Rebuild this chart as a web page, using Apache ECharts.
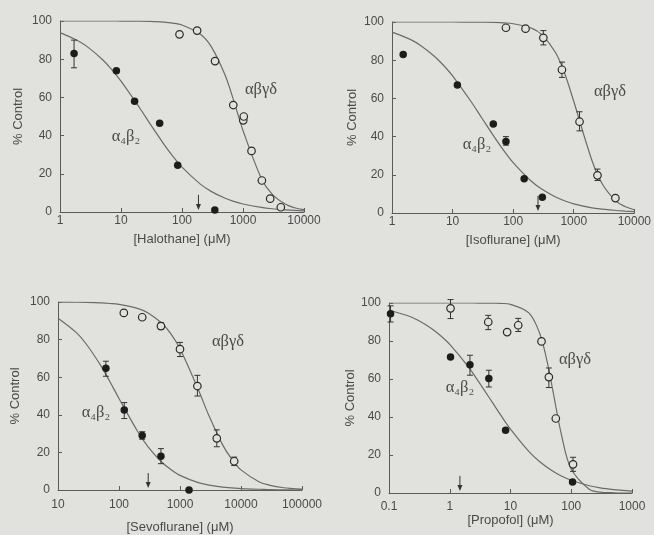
<!DOCTYPE html>
<html>
<head>
<meta charset="utf-8">
<script src="https://cdn.jsdelivr.net/npm/echarts@6/dist/echarts.min.js"></script>
<style>
html, body { margin: 0; background: #e1e1de; }
#main { width: 654px; height: 535px; }
</style>
</head>
<body>
<div id="main"></div>
<script>
// 四个剂量-反应面板：α4β2（实心点）和 αβγδ（空心点）
var chart = echarts.init(document.getElementById('main'));

// ---- Halothane ----
var haloFitX = [1, 2, 3, 5, 7, 10, 20, 30, 50, 70, 100, 200, 300, 500, 700, 1000, 2000, 3000, 5000, 7000, 10000];
var haloFitA = [93.9, 89.5, 85.8, 79.7, 74.7, 68.5, 54.7, 46.1, 35.7, 29.4, 23.5, 14.6, 10.8, 7.3, 5.6, 4.2, 2.4, 1.7, 1.1, 0.8, 0.6];
var haloFitB = [100, 100, 100, 100, 100, 99.97, 99.9, 99.76, 99.4, 98.9, 97.9, 93.1, 86.7, 72.2, 58.6, 42.7, 17.6, 9.4, 4.0, 2.2, 1.2];
var haloPtsA = [[1.7, 83], [8.4, 74], [16.7, 58], [43, 46.5], [85, 24.5], [345, 1]];
var haloPtsB = [[91, 93], [177, 95], [348, 79], [693, 56], [1010, 48], [1030, 50], [1380, 32], [2040, 16.5], [2790, 7], [4170, 2.5]];
var haloErr = [[1.7, 75.5, 90]];
var haloArrow = 186;

// ---- Isoflurane ----
var isoFitX = [1, 2, 3, 5, 7, 10, 20, 30, 50, 70, 100, 200, 300, 500, 700, 1000, 2000, 3000, 5000, 7000, 10000];
var isoFitA = [94.7, 90.9, 87.6, 82.1, 77.5, 71.8, 58.5, 50, 39.3, 32.7, 26.4, 16.6, 12.4, 8.4, 6.4, 4.8, 2.7, 2.0, 1.3, 1.0, 0.7];
var isoFitB = [100, 100, 100, 100, 100, 99.99, 99.96, 99.9, 99.76, 99.55, 99.1, 96.8, 93.3, 84.0, 73.6, 58.5, 27.5, 14.9, 6.2, 3.4, 1.7];
var isoPtsA = [[1.53, 83], [12, 67], [47, 46.6], [76, 37.4], [152, 17.9], [303, 8.2]];
var isoPtsB = [[76, 97], [160, 96.5], [315, 91.7], [639, 75], [1247, 47.8], [2465, 19.7], [4870, 7.8]];
var isoErr = [[76, 35.5, 40], [315, 88, 95.5], [639, 71, 79], [1247, 43, 53], [2465, 17, 23]];
var isoArrow = 257;

// ---- Sevoflurane ----
var sevoFitX = [10, 20, 30, 50, 70, 100, 200, 300, 500, 700, 1000, 2000, 3000, 5000, 7000, 10000, 20000, 30000, 50000, 70000, 100000];
var sevoFitA = [91.4, 83.7, 77.0, 66.3, 58.0, 48.7, 31.4, 23.0, 14.9, 11.0, 7.8, 3.9, 2.6, 1.5, 1.1, 0.7, 0.4, 0.2, 0.1, 0.1, 0.1];
var sevoFitB = [99.95, 99.86, 99.76, 99.5, 99.2, 98.7, 96.6, 94.2, 88.8, 83.3, 75.1, 53.3, 39.3, 24.0, 16.5, 10.7, 4.3, 2.5, 1.2, 0.8, 0.5];
var sevoPtsA = [[61, 64.7], [122, 42.5], [240, 29], [487, 17.9], [1406, 0]];
var sevoPtsB = [[120, 94.2], [240, 91.9], [487, 87.2], [1000, 74.9], [1928, 55.3], [4010, 27.5], [7730, 15.3]];
var sevoErr = [[61, 60.5, 68.5], [122, 38, 46.5], [240, 27, 31], [487, 14, 22],
  [487, 85.5, 89], [1000, 71, 78.5], [1928, 50, 61], [4010, 23, 32], [7730, 13, 17.5]];
var sevoArrow = 301;

// ---- Propofol ----
var propoFitXA = [0.1, 0.2, 0.3, 0.5, 0.7, 1, 2, 3, 5, 7, 10, 20, 30, 50, 70, 100, 200, 300, 500, 700, 1000];
var propoFitA = [96.2, 93.4, 90.9, 86.6, 82.9, 78.2, 66.6, 58.5, 47.8, 40.7, 33.6, 21.9, 16.6, 11.4, 8.8, 6.7, 3.8, 2.7, 1.8, 1.4, 1.0];
var propoFitXB = [0.1, 0.2, 0.3, 0.5, 0.7, 1, 2, 3, 5, 7, 10, 20, 30, 40, 50, 70, 100, 200, 300, 500, 700, 1000];
var propoFitB = [100, 100, 100, 100, 100, 100, 100, 99.98, 99.9, 99.8, 99.3, 94.8, 84.3, 69.3, 53.6, 29.7, 12.6, 1.8, 0.5, 0.1, 0, 0];
var propoPtsA = [[0.106, 94.4], [1.03, 71.6], [2.15, 67.5], [4.4, 60.2], [8.3, 33], [105, 5.8]];
var propoPtsB = [[1.03, 97.2], [4.3, 90], [8.8, 84.7], [13.4, 88.3], [32.4, 79.8], [42.8, 61], [55.7, 39.2], [107, 15.1]];
var propoErr = [[0.106, 90, 98.5], [2.15, 62, 72.5], [4.4, 55.8, 64.6],
  [1.03, 91.8, 101.8], [4.3, 86, 93.5], [13.4, 85, 91.9], [42.8, 55.5, 65.8], [107, 11.4, 18.8]];
var propoArrow = 1.47;

var yTicks = [0, 20, 40, 60, 80, 100];

var bg = '#e1e1de';
var ink = '#4a4a4a';
var curveColor = '#6b6b6b';
var dotColor = '#1c1c1c';

function pairs(xs, ys) {
  return xs.map(function (x, i) { return [x, ys[i]]; });
}

var panels = [
  { title: '[Halothane] (\u03bcM)', min: 1, max: 10000, fitA: pairs(haloFitX, haloFitA), fitB: pairs(haloFitX, haloFitB),
    ptsA: haloPtsA, ptsB: haloPtsB, err: haloErr, arrow: haloArrow,
    grid: { left: 60, top: 21, width: 244, height: 191 }, labelMargin: 3, xNameGap: 21, yNameGap: 35,
    tagB: [261, 90], tagA: [126, 137] },
  { title: '[Isoflurane] (\u03bcM)', min: 1, max: 10000, fitA: pairs(isoFitX, isoFitA), fitB: pairs(isoFitX, isoFitB),
    ptsA: isoPtsA, ptsB: isoPtsB, err: isoErr, arrow: isoArrow,
    grid: { left: 392, top: 22, width: 245, height: 191 }, labelMargin: 3, xNameGap: 21, yNameGap: 33,
    tagB: [610, 92], tagA: [477, 145] },
  { title: '[Sevoflurane] (\u03bcM)', min: 10, max: 100000, fitA: pairs(sevoFitX, sevoFitA), fitB: pairs(sevoFitX, sevoFitB),
    ptsA: sevoPtsA, ptsB: sevoPtsB, err: sevoErr, arrow: sevoArrow,
    grid: { left: 58, top: 302, width: 244, height: 190 }, labelMargin: 9, xNameGap: 31, yNameGap: 36,
    tagB: [228, 342], tagA: [96, 413] },
  { title: '[Propofol] (\u03bcM)', min: 0.1, max: 1000, fitA: pairs(propoFitXA, propoFitA), fitB: pairs(propoFitXB, propoFitB),
    ptsA: propoPtsA, ptsB: propoPtsB, err: propoErr, arrow: propoArrow,
    grid: { left: 389, top: 303, width: 243, height: 190 }, labelMargin: 8, xNameGap: 18, yNameGap: 31,
    tagB: [575, 360], tagA: [460, 388] }
];

// 误差棒
function renderErr(params, api) {
  var x = api.value(0);
  var lo = api.coord([x, api.value(1)]);
  var hi = api.coord([x, api.value(2)]);
  var w = 3;
  var st = { stroke: '#333', lineWidth: 1 };
  return {
    type: 'group',
    children: [
      { type: 'line', shape: { x1: lo[0], y1: lo[1], x2: hi[0], y2: hi[1] }, style: st },
      { type: 'line', shape: { x1: lo[0] - w, y1: lo[1], x2: lo[0] + w, y2: lo[1] }, style: st },
      { type: 'line', shape: { x1: hi[0] - w, y1: hi[1], x2: hi[0] + w, y2: hi[1] }, style: st }
    ]
  };
}

// 向下的小箭头
function renderArrow(params, api) {
  var top = api.coord([api.value(0), 9]);
  var bot = api.coord([api.value(0), 1]);
  return {
    type: 'group',
    children: [
      { type: 'line', shape: { x1: top[0], y1: top[1], x2: bot[0], y2: bot[1] - 3 }, style: { stroke: '#333', lineWidth: 1 } },
      { type: 'polygon', shape: { points: [[bot[0] - 2.5, bot[1] - 6], [bot[0] + 2.5, bot[1] - 6], [bot[0], bot[1]]] }, style: { fill: '#333' } }
    ]
  };
}

var grids = [], xAxes = [], yAxes = [], series = [], graphics = [];
var labelFont = { color: ink, fontFamily: 'Liberation Sans, Arial, sans-serif', fontSize: 12 };
var tagFont = '16.5px "Liberation Serif", "DejaVu Serif", serif';

panels.forEach(function (p, i) {
  grids.push(p.grid);
  xAxes.push({
    type: 'log', logBase: 10, gridIndex: i, min: p.min, max: p.max,
    name: p.title, nameLocation: 'middle', nameGap: p.xNameGap,
    nameTextStyle: { color: ink, fontFamily: 'Liberation Sans, Arial, sans-serif', fontSize: 13 },
    axisLine: { lineStyle: { color: '#5a5a5a', width: 1 } },
    axisTick: { inside: true, length: 4, lineStyle: { color: '#5a5a5a' } },
    minorTick: { show: false },
    splitLine: { show: false },
    axisLabel: Object.assign({ margin: p.labelMargin, formatter: function (v) { return String(+v.toPrecision(6)); } }, labelFont)
  });
  yAxes.push({
    type: 'value', gridIndex: i, min: yTicks[0], max: yTicks[yTicks.length - 1], interval: yTicks[1] - yTicks[0],
    name: '% Control', nameLocation: 'middle', nameRotate: 90, nameGap: p.yNameGap,
    nameTextStyle: { color: ink, fontFamily: 'Liberation Sans, Arial, sans-serif', fontSize: 13 },
    axisLine: { show: true, lineStyle: { color: '#5a5a5a', width: 1 } },
    axisTick: { show: true, inside: true, length: 4, lineStyle: { color: '#5a5a5a' } },
    splitLine: { show: false },
    axisLabel: Object.assign({ margin: 8 }, labelFont)
  });

  var common = { xAxisIndex: i, yAxisIndex: i, silent: true, animation: false };
  series.push(Object.assign({
    type: 'line', data: p.fitA, showSymbol: false, smooth: 0.35, z: 1,
    lineStyle: { color: curveColor, width: 1.2 }
  }, common));
  series.push(Object.assign({
    type: 'line', data: p.fitB, showSymbol: false, smooth: 0.35, z: 1,
    lineStyle: { color: curveColor, width: 1.2 }
  }, common));
  series.push(Object.assign({ type: 'custom', data: p.err, renderItem: renderErr, z: 2 }, common));
  series.push(Object.assign({ type: 'custom', data: [[p.arrow]], renderItem: renderArrow, z: 2 }, common));
  series.push(Object.assign({
    type: 'scatter', data: p.ptsB, symbol: 'circle', symbolSize: 7.5, z: 3,
    itemStyle: { color: bg, borderColor: '#2a2a2a', borderWidth: 1.2, opacity: 1 }
  }, common));
  series.push(Object.assign({
    type: 'scatter', data: p.ptsA, symbol: 'circle', symbolSize: 7.5, z: 3,
    itemStyle: { color: dotColor, opacity: 1 }
  }, common));

  // 曲线旁的受体标签
  graphics.push({ type: 'text', x: p.tagB[0], y: p.tagB[1], silent: true,
    style: { text: '\u03b1\u03b2\u03b3\u03b4', font: tagFont, fill: ink, align: 'center', verticalAlign: 'middle' } });
  graphics.push({ type: 'text', x: p.tagA[0], y: p.tagA[1], silent: true,
    style: { text: '\u03b1\u2084\u03b2\u2082', font: tagFont, fill: ink, align: 'center', verticalAlign: 'middle' } });
});

chart.setOption({
  backgroundColor: bg,
  animation: false,
  grid: grids,
  xAxis: xAxes,
  yAxis: yAxes,
  series: series,
  graphic: graphics
});
</script>
</body>
</html>
